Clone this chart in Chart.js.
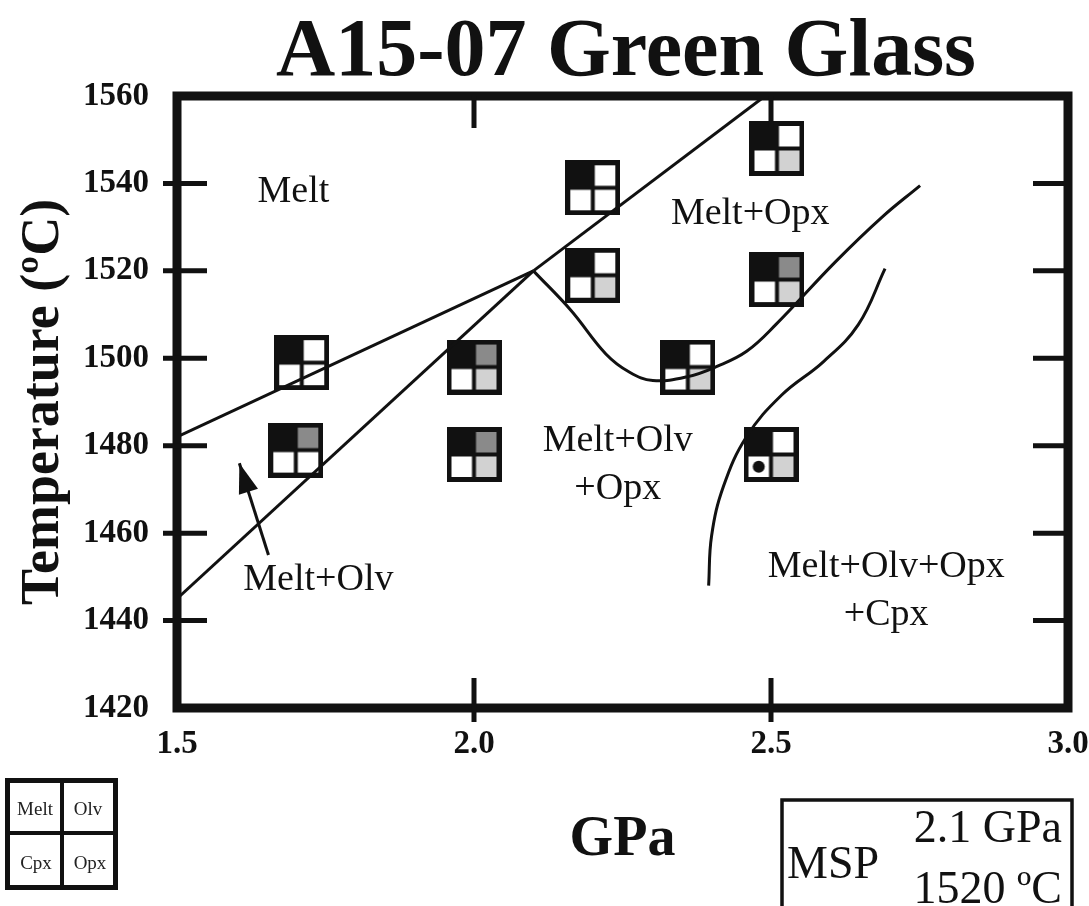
<!DOCTYPE html>
<html>
<head>
<meta charset="utf-8">
<title>A15-07 Green Glass</title>
<script src="https://cdn.jsdelivr.net/npm/chart.js@4.4.1/dist/chart.umd.min.js"></script>
<style>
  html, body { margin: 0; padding: 0; background: #fff; }
</style>
</head>
<body>
<canvas id="grafico" width="1089" height="906"></canvas>
<script>
/* A15-07 green glass — diagrama de fases P-T (Chart.js 4.x) */

// ----------------------------------------- Dados ----------------------------------------- //
const xTicks = [1.5, 2.0, 2.5, 3.0];                         // GPa
const yTicks = [1420, 1440, 1460, 1480, 1500, 1520, 1540, 1560]; // ºC

// experiências (1 = fase presente)
const expP   = [1.71, 1.70, 2.00, 2.00, 2.20, 2.20, 2.51, 2.51, 2.36, 2.50];
const expT   = [1499, 1479, 1498, 1478, 1539, 1519, 1548, 1518, 1498, 1478];
const expOlv = [0, 1, 1, 1, 0, 0, 0, 1, 0, 0];
const expOpx = [0, 0, 1, 1, 0, 1, 1, 1, 1, 1];
const expCpx = [0, 0, 0, 0, 0, 0, 0, 0, 0, 1];

// fronteiras de fase
const liqOlvP = [1.5, 2.1];            // Melt | Melt+Olv
const liqOlvT = [1482, 1520];
const olvLoP  = [1.5, 2.1];            // Melt+Olv | Melt+Olv+Opx
const olvLoT  = [1445, 1520];
const liqOpxP = [2.1, 2.49];           // Melt | Melt+Opx
const liqOpxT = [1520, 1560];
const opxInP  = [2.1, 2.163, 2.222, 2.262, 2.301, 2.36, 2.41, 2.459, 2.508, 2.608, 2.687, 2.751];
const opxInT  = [1520, 1511, 1501, 1496.8, 1494.9, 1495.8, 1498.2, 1501.6, 1507.7, 1522, 1532.3, 1539.5];
const cpxInP  = [2.395, 2.40, 2.42, 2.459, 2.518, 2.588, 2.647, 2.692];
const cpxInT  = [1448, 1459.4, 1470.7, 1482.1, 1491.6, 1499.2, 1507.7, 1520.5];
const setaP   = [1.654, 1.605];
const setaT   = [1455, 1476];

// ----------------------------------------- Estilo ----------------------------------------- //
const SERIF = "'Liberation Serif','Times New Roman',serif";
const PRETO = '#111';

const rotulos = [
  { t: 'Melt',         p: 1.696, T: 1535.8 },
  { t: 'Melt+Opx',     p: 2.465, T: 1530.7 },
  { t: 'Melt+Olv',     p: 2.242, T: 1478.8 },
  { t: '+Opx',         p: 2.242, T: 1467.9 },
  { t: 'Melt+Olv',     p: 1.738, T: 1447.0 },
  { t: 'Melt+Olv+Opx', p: 2.694, T: 1449.9 },
  { t: '+Cpx',         p: 2.694, T: 1438.9 }
];

// símbolo 2x2: Melt | Olv / Cpx | Opx
function simbolo(olv, opx, cpx) {
  const s = 55, b = 5, d = 4, c = (s - 2*b - d) / 2;
  const cv = document.createElement('canvas');
  cv.width = s; cv.height = s;
  const g = cv.getContext('2d');
  g.fillStyle = PRETO; g.fillRect(0, 0, s, s);
  g.fillStyle = olv ? '#8a8a8a' : '#fff'; g.fillRect(b + c + d, b, c, c);
  g.fillStyle = '#fff';                   g.fillRect(b, b + c + d, c, c);
  g.fillStyle = opx ? '#d2d2d2' : '#fff'; g.fillRect(b + c + d, b + c + d, c, c);
  if (cpx) {
    g.fillStyle = PRETO;
    g.beginPath(); g.arc(b + c/2, b + c + d + c/2, 6, 0, 2*Math.PI); g.fill();
  }
  return cv;
}

const pts = (xs, ys) => xs.map((x, i) => ({ x, y: ys[i] }));

function linha(xs, ys, tension) {
  return {
    data: pts(xs, ys), showLine: true, pointRadius: 0,
    borderColor: PRETO, borderWidth: 3, tension: tension || 0, order: 0
  };
}

// ----------------------------------------- Plugins ----------------------------------------- //
const moldura = {
  id: 'moldura',
  afterDatasetsDraw(chart) {
    const { ctx, chartArea: a, scales: { x, y } } = chart;
    ctx.save();
    ctx.strokeStyle = PRETO;
    ctx.lineWidth = 9;
    ctx.strokeRect(a.left, a.top, a.right - a.left, a.bottom - a.top);

    ctx.lineWidth = 5;
    ctx.beginPath();
    yTicks.slice(1, -1).forEach(v => {
      const py = y.getPixelForValue(v);
      ctx.moveTo(a.left - 14, py); ctx.lineTo(a.left + 30, py);
      ctx.moveTo(a.right - 35, py); ctx.lineTo(a.right, py);
    });
    xTicks.slice(1, -1).forEach(v => {
      const px = x.getPixelForValue(v);
      ctx.moveTo(px, a.top); ctx.lineTo(px, a.top + 32);
      ctx.moveTo(px, a.bottom - 30); ctx.lineTo(px, a.bottom + 14);
    });
    ctx.stroke();

    // ponta da seta
    const meta = chart.getDatasetMeta(chart.data.datasets.length - 1);
    const p0 = meta.data[0], p1 = meta.data[1];
    const ang = Math.atan2(p1.y - p0.y, p1.x - p0.x);
    const L = 30, W = 10;
    const bx = p1.x - L*Math.cos(ang), by = p1.y - L*Math.sin(ang);
    ctx.fillStyle = PRETO;
    ctx.beginPath();
    ctx.moveTo(p1.x, p1.y);
    ctx.lineTo(bx + W*Math.sin(ang), by - W*Math.cos(ang));
    ctx.lineTo(bx - W*Math.sin(ang), by + W*Math.cos(ang));
    ctx.closePath(); ctx.fill();
    ctx.restore();
  }
};

const textos = {
  id: 'textos',
  afterDraw(chart) {
    const { ctx, scales: { x, y } } = chart;
    ctx.save();
    ctx.fillStyle = PRETO;
    ctx.textBaseline = 'alphabetic';

    // título
    ctx.textAlign = 'center';
    ctx.font = `bold 82px ${SERIF}`;
    ctx.fillText('A15-07 Green Glass', 626, 75);

    // regiões do diagrama
    ctx.font = `38px ${SERIF}`;
    rotulos.forEach(r => ctx.fillText(r.t, x.getPixelForValue(r.p), y.getPixelForValue(r.T)));

    // legenda do símbolo
    ctx.fillStyle = PRETO;
    ctx.fillRect(5, 778, 113, 112);
    ctx.fillStyle = '#fff';
    ctx.fillRect(10, 783, 50, 48);
    ctx.fillRect(64, 783, 49, 48);
    ctx.fillRect(10, 835, 50, 50);
    ctx.fillRect(64, 835, 49, 50);
    ctx.fillStyle = '#222';
    ctx.font = `19px ${SERIF}`;
    ctx.fillText('Melt', 35, 815);
    ctx.fillText('Olv', 88, 815);
    ctx.fillText('Cpx', 36, 869);
    ctx.fillText('Opx', 90, 869);

    // caixa MSP
    ctx.strokeStyle = PRETO;
    ctx.lineWidth = 3.5;
    ctx.strokeRect(782, 800, 290, 130);
    ctx.fillStyle = PRETO;
    ctx.font = `46px ${SERIF}`;
    ctx.textAlign = 'left';
    ctx.fillText('MSP', 787, 878);
    ctx.textAlign = 'right';
    ctx.fillText('2.1 GPa', 1062, 842);
    ctx.fillText('1520 ºC', 1062, 903);
    ctx.restore();
  }
};

// ----------------------------------------- Gráfico ----------------------------------------- //
new Chart(document.getElementById('grafico'), {
  type: 'scatter',
  data: {
    datasets: [
      {
        data: pts(expP, expT),
        pointStyle: expP.map((_, i) => simbolo(expOlv[i], expOpx[i], expCpx[i])),
        pointRadius: 27,
        order: 10
      },
      linha(liqOlvP, liqOlvT),
      linha(olvLoP, olvLoT),
      linha(liqOpxP, liqOpxT),
      linha(opxInP, opxInT, 0.4),
      linha(cpxInP, cpxInT, 0.4),
      linha(setaP, setaT)
    ]
  },
  plugins: [moldura, textos],
  options: {
    responsive: false,
    animation: false,
    events: [],
    layout: { autoPadding: false, padding: { left: 0, top: 96, right: 21, bottom: 30 } },
    plugins: { legend: { display: false }, tooltip: { enabled: false } },
    scales: {
      x: {
        type: 'linear', min: 1.5, max: 3.0,
        afterFit: s => { s.height = 168; },
        grid: {
          display: true, drawOnChartArea: false, drawTicks: true,
          tickLength: 17, color: 'rgba(0,0,0,0)'
        },
        border: { display: false },
        ticks: {
          stepSize: 0.5, padding: 0, color: PRETO,
          font: { family: SERIF, size: 33, weight: 'bold' },
          callback: v => Number(v).toFixed(1)
        },
        title: {
          display: true, text: 'GPa', color: PRETO,
          font: { family: SERIF, size: 56, weight: 'bold' },
          padding: { top: 0, bottom: 2 }
        }
      },
      y: {
        type: 'linear', min: 1420, max: 1560,
        afterFit: s => { s.width = 177; },
        grid: { display: false }, border: { display: false },
        ticks: {
          stepSize: 20, padding: 20, color: PRETO,
          font: { family: SERIF, size: 33, weight: 'bold' },
          callback: v => String(v)
        },
        title: {
          display: true, text: 'Temperature (ºC)', color: PRETO,
          font: { family: SERIF, size: 54, weight: 'bold' },
          padding: { top: 12, bottom: 0 }
        }
      }
    }
  }
});
</script>
</body>
</html>
